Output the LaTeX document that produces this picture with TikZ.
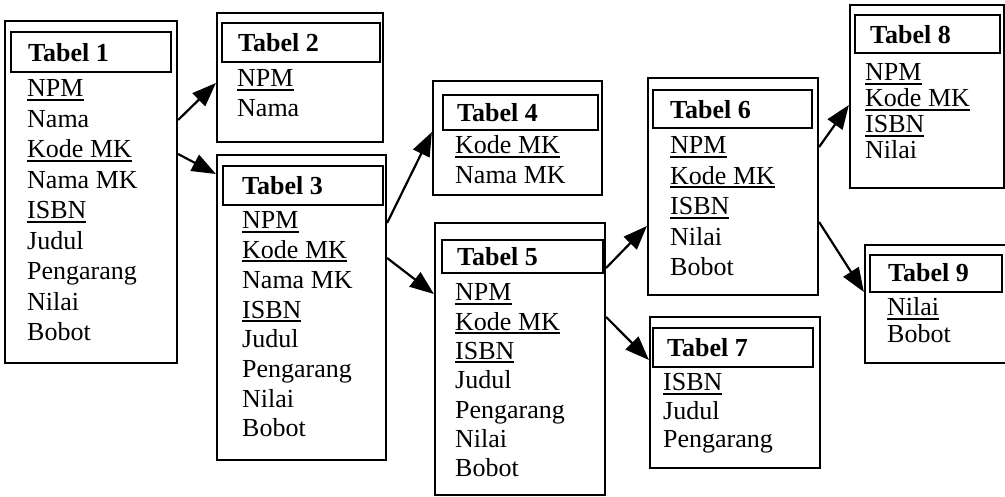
\documentclass[tikz,border=0pt]{standalone}
\usepackage{fontspec}
\setmainfont{Liberation Serif}
\usetikzlibrary{arrows.meta,fit}
\newcommand\ukey[1]{\setbox0\hbox{#1}\rlap{\rule[-3.6pt]{\wd0}{1.8pt}}\box0}
\newcommand\rows[5]{%
  \foreach \rowtext [count=\i] in {#5} {\node[row] (#1-\i) at ({#2},{#3+(\i-1)*#4}) {\rowtext};}}
\tikzset{
  frame/.style={draw, line width=2.2pt, inner sep=0pt},
  head/.style={draw, line width=2.2pt, inner sep=0pt},
  row/.style={anchor=base west, inner sep=0pt, font=\fontsize{26}{30}\selectfont},
  title/.style={anchor=base west, inner sep=0pt, font=\fontsize{26}{30}\selectfont\bfseries},
  link/.style={line width=2.2pt, -{Triangle[length=24pt,width=18pt]}},
}
\begin{document}
\begin{tikzpicture}[x=1pt,y=-1pt]
\useasboundingbox (0,0) rectangle (1005,497);
% Tabel 1
\node[frame, fit={(5,21) (177,363)}] (t1) {};
\node[head, fit={(11,32) (171,72)}] (h1) {};
\node[title] (n1) at (28,62) {Tabel 1};
\rows{r1}{27}{97}{30.5}{\ukey{NPM},Nama,\ukey{Kode MK},Nama MK,\ukey{ISBN},Judul,Pengarang,Nilai,Bobot}
% Tabel 2
\node[frame, fit={(217,13) (383,142)}] (t2) {};
\node[head, fit={(222,23) (380,62)}] (h2) {};
\node[title] (n2) at (238,52) {Tabel 2};
\rows{r2}{237}{87}{30}{\ukey{NPM},Nama}
% Tabel 3
\node[frame, fit={(217,155) (386,460)}] (t3) {};
\node[head, fit={(223,166) (383,205)}] (h3) {};
\node[title] (n3) at (242,195) {Tabel 3};
\rows{r3}{242}{229}{29.7}{\ukey{NPM},\ukey{Kode MK},Nama MK,\ukey{ISBN},Judul,Pengarang,Nilai,Bobot}
% Tabel 4
\node[frame, fit={(433,81) (602,195)}] (t4) {};
\node[head, fit={(443,95) (598,130)}] (h4) {};
\node[title] (n4) at (457,122) {Tabel 4};
\rows{r4}{455}{154}{30}{\ukey{Kode MK},Nama MK}
% Tabel 5
\node[frame, fit={(435,223) (605,495)}] (t5) {};
\node[head, fit={(442,240) (603,273)}] (h5) {};
\node[title] (n5) at (457,266) {Tabel 5};
\rows{r5}{455}{301}{29.3}{\ukey{NPM},\ukey{Kode MK},\ukey{ISBN},Judul,Pengarang,Nilai,Bobot}
% Tabel 6
\node[frame, fit={(648,78) (818,295)}] (t6) {};
\node[head, fit={(653,90) (812,128)}] (h6) {};
\node[title] (n6) at (670,119) {Tabel 6};
\rows{r6}{670}{154}{30.5}{\ukey{NPM},\ukey{Kode MK},\ukey{ISBN},Nilai,Bobot}
% Tabel 7
\node[frame, fit={(650,317) (820,468)}] (t7) {};
\node[head, fit={(653,328) (813,367)}] (h7) {};
\node[title] (n7) at (667,356) {Tabel 7};
\rows{r7}{663}{391}{28}{\ukey{ISBN},Judul,Pengarang}
% Tabel 8
\node[frame, fit={(850,5) (1004,188)}] (t8) {};
\node[head, fit={(855,15) (1000,53)}] (h8) {};
\node[title] (n8) at (870,44) {Tabel 8};
\rows{r8}{865}{81}{26}{\ukey{NPM},\ukey{Kode MK},\ukey{ISBN},Nilai}
% Tabel 9
\node[frame, fit={(865,245) (1012,363)}] (t9) {};
\node[head, fit={(870,255) (1002,292)}] (h9) {};
\node[title] (n9) at (888,282) {Tabel 9};
\rows{r9}{887}{316}{26}{\ukey{Nilai},Bobot}
% connectors
\draw[link] (t1.east |- 0,120) -- (t2.west |- 0,83);
\draw[link] (t1.east |- 0,154) -- (t3.west |- 0,174);
\draw[link] (t3.east |- 0,223) -- (t4.west |- 0,132);
\draw[link] (t3.east |- 0,258) -- (t5.west |- 0,294);
\draw[link] (t5.east |- 0,268) -- (t6.west |- 0,226);
\draw[link] (t5.east |- 0,317) -- (t7.west |- 0,360);
\draw[link] (t6.east |- 0,147) -- (t8.west |- 0,105);
\draw[link] (t6.east |- 0,222) -- (t9.west |- 0,292);
\end{tikzpicture}
\end{document}
